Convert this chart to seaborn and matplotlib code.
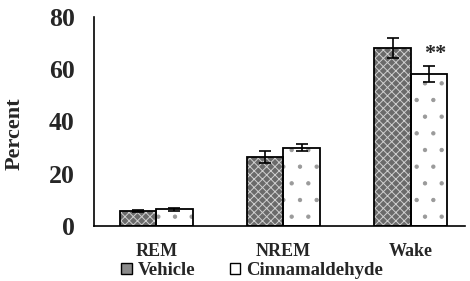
import matplotlib
matplotlib.use("Agg")
import matplotlib.pyplot as plt
from matplotlib.patches import Patch, Rectangle
import pandas as pd
import seaborn as sns

# values
stages = ["REM", "NREM", "Wake"]
groups = ["Vehicle", "Cinnamaldehyde"]
vehicle = [5.7, 26.2, 68.2]
vehicle_err = [0.5, 2.3, 3.8]
cinnamaldehyde = [6.4, 30.0, 58.2]
cinnamaldehyde_err = [0.5, 1.5, 3.0]
stars = ["", "", "**"]  # significance over Cinnamaldehyde bars

df = pd.DataFrame({
    "Stage": stages * 2,
    "Group": [groups[0]] * 3 + [groups[1]] * 3,
    "Percent": vehicle + cinnamaldehyde,
    "Err": vehicle_err + cinnamaldehyde_err,
})

sns.set_theme(style="white")
plt.rcParams["font.family"] = ["Liberation Serif", "DejaVu Serif"]
plt.rcParams["font.weight"] = "bold"
plt.rcParams["hatch.linewidth"] = 0.7

fig = plt.figure(figsize=(4.7, 2.81), dpi=100)
ax = fig.add_axes([0.2, 0.196, 0.79, 0.744])

sns.barplot(data=df, x="Stage", y="Percent", hue="Group", order=stages,
            hue_order=groups, palette=["#6a6a6a", "white"], width=0.57,
            errorbar=None, legend=False, ax=ax)

styles = [("xxxx", "#cfcfcf"), (".", "#9a9a9a")]
bars = [p for p in ax.patches if isinstance(p, Rectangle)]
for i, p in enumerate(bars):
    g = i // len(stages)
    hatch, hcol = styles[g]
    p.set_hatch(hatch)
    p.set_edgecolor(hcol)
    p.set_linewidth(0)
    ax.add_patch(Rectangle(p.get_xy(), p.get_width(), p.get_height(),
                           fill=False, edgecolor="black", lw=1.3, zorder=3))
    row = df[(df.Group == groups[g]) & (df.Stage == stages[i % len(stages)])].iloc[0]
    cx = p.get_x() + p.get_width() / 2
    ax.errorbar(cx, row.Percent, yerr=row.Err, fmt="none", ecolor="black",
                elinewidth=1.2, capsize=4.3, capthick=1.2, zorder=4)
    if g == 1 and stars[i % len(stages)]:
        ax.text(cx + 0.05, row.Percent + row.Err + 0.8, stars[i % len(stages)],
                ha="center", va="bottom", fontsize=16, fontweight="bold")

ax.set_ylim(0, 80)
ax.set_xlim(-0.49, 2.43)
ax.set_yticks([0, 20, 40, 60, 80])
ax.tick_params(axis="y", length=0, pad=14, labelsize=18.5)
ax.tick_params(axis="x", length=0, pad=12, labelsize=13)
for lab in ax.get_xticklabels() + ax.get_yticklabels():
    lab.set_fontweight("bold")
ax.set_xlabel("")
ax.set_ylabel("Percent", fontsize=16, fontweight="bold")
ax.yaxis.set_label_coords(-0.186, 0.44)
for s in ["top", "right"]:
    ax.spines[s].set_visible(False)
for s in ["left", "bottom"]:
    ax.spines[s].set_color("black")
    ax.spines[s].set_linewidth(1.2)

handles = [Patch(facecolor="#8a8a8a", edgecolor="black", lw=1),
           Patch(facecolor="white", edgecolor="black", lw=1)]
fig.legend(handles, groups, loc="lower center", bbox_to_anchor=(0.537, 0.0),
           ncol=2, frameon=False, handlelength=0.55, handleheight=0.55,
           handletextpad=0.35, columnspacing=1.8, borderpad=0,
           borderaxespad=0.1, prop={"weight": "bold", "size": 13.5})

fig.savefig("out.png", dpi=100)
